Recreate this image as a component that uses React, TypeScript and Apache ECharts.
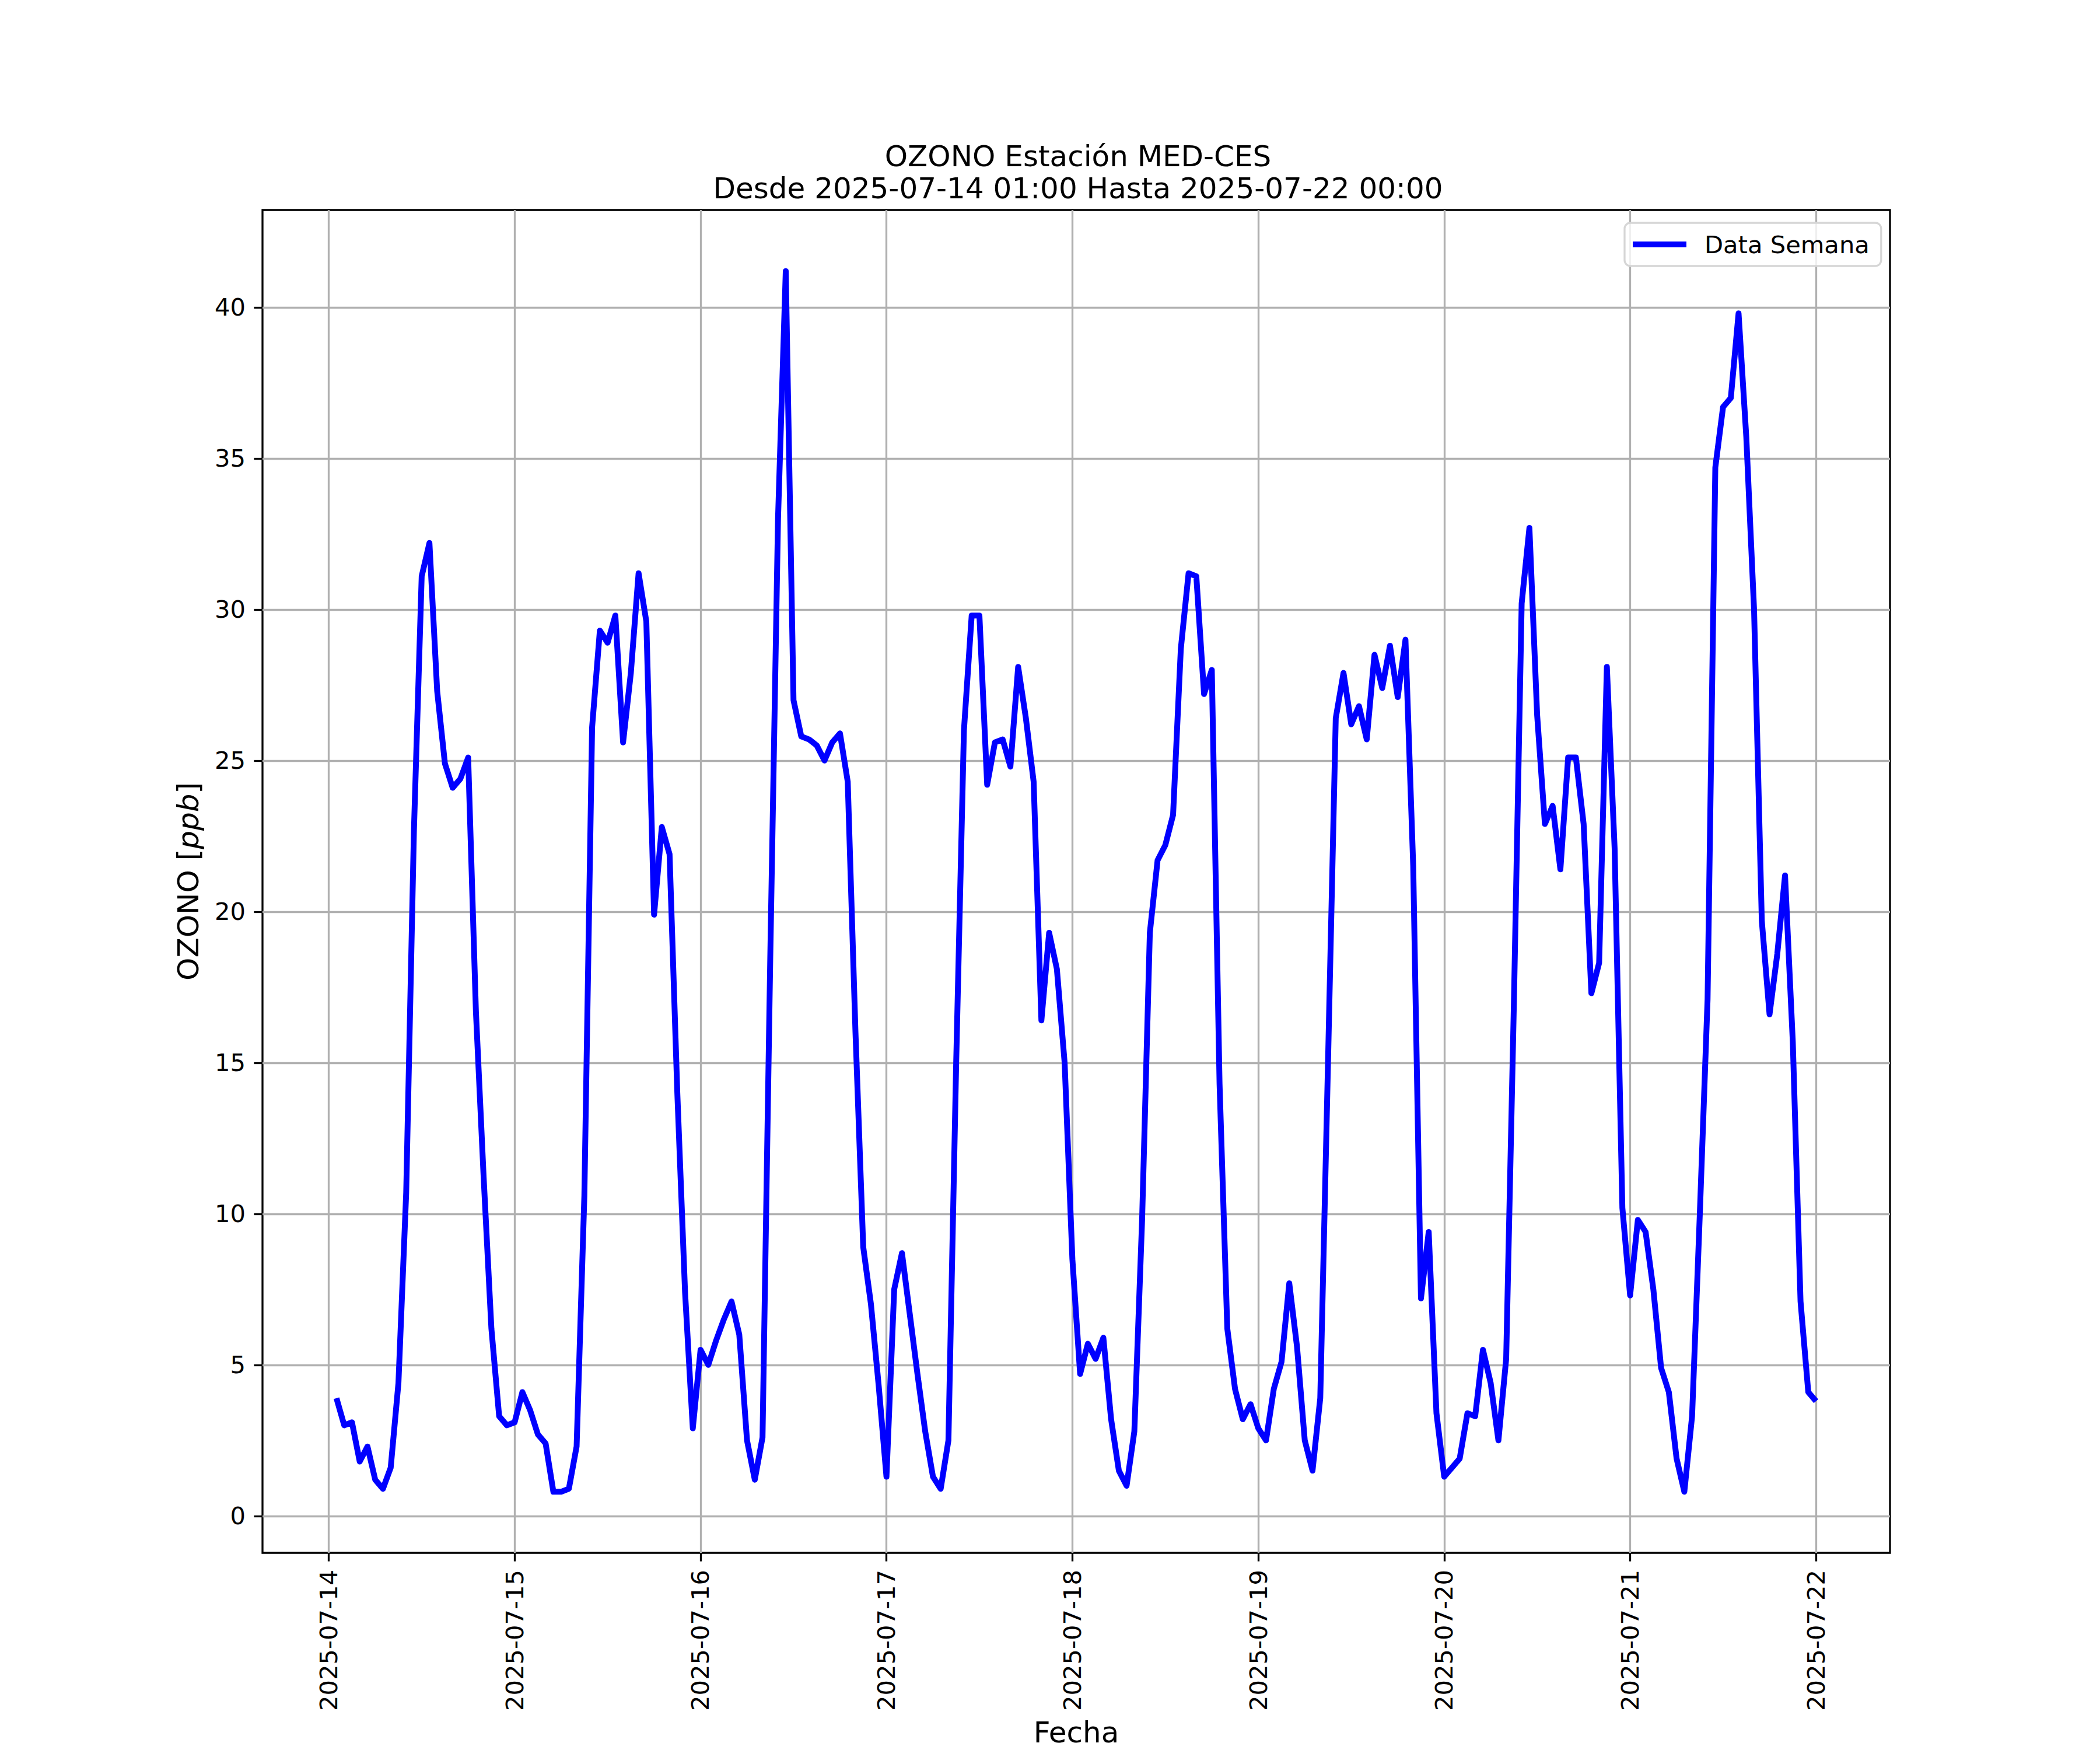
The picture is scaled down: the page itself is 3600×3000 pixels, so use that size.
import React, { useEffect, useRef } from "react";
import * as echarts from "echarts";

// Hourly ozone values (ppb); each array = hours 01:00 .. 24:00 (next day 00:00)
const DAY_0714 = [3.9, 3.0, 3.1, 1.8, 2.3, 1.2, 0.9, 1.6, 4.4, 10.7, 22.7, 31.1, 32.2, 27.3, 24.9, 24.1, 24.4, 25.1, 16.7, 11.2, 6.2, 3.3, 3.0, 3.1];
const DAY_0715 = [4.1, 3.5, 2.7, 2.4, 0.8, 0.8, 0.9, 2.3, 10.6, 26.1, 29.3, 28.9, 29.8, 25.6, 27.9, 31.2, 29.6, 19.9, 22.8, 21.9, 14.0, 7.4, 2.9, 5.5];
const DAY_0716 = [5.0, 5.8, 6.5, 7.1, 6.0, 2.5, 1.2, 2.6, 18.5, 33.0, 41.2, 27.0, 25.8, 25.7, 25.5, 25.0, 25.6, 25.9, 24.3, 16.0, 8.9, 7.0, 4.3, 1.3];
const DAY_0717 = [7.5, 8.7, 6.7, 4.7, 2.8, 1.3, 0.9, 2.5, 15.0, 26.0, 29.8, 29.8, 24.2, 25.6, 25.7, 24.8, 28.1, 26.4, 24.3, 16.4, 19.3, 18.1, 15.0, 8.5];
const DAY_0718 = [4.7, 5.7, 5.2, 5.9, 3.2, 1.5, 1.0, 2.8, 9.8, 19.3, 21.7, 22.2, 23.2, 28.7, 31.2, 31.1, 27.2, 28.0, 14.3, 6.2, 4.2, 3.2, 3.7, 2.9];
const DAY_0719 = [2.5, 4.2, 5.1, 7.7, 5.6, 2.5, 1.5, 3.9, 15.0, 26.4, 27.9, 26.2, 26.8, 25.7, 28.5, 27.4, 28.8, 27.1, 29.0, 21.5, 7.2, 9.4, 3.4, 1.3];
const DAY_0720 = [1.6, 1.9, 3.4, 3.3, 5.5, 4.4, 2.5, 5.2, 17.0, 30.2, 32.7, 26.5, 22.9, 23.5, 21.4, 25.1, 25.1, 22.9, 17.3, 18.3, 28.1, 22.1, 10.2, 7.3];
const DAY_0721 = [9.8, 9.4, 7.5, 4.9, 4.1, 1.9, 0.8, 3.3, 10.0, 17.1, 34.7, 36.7, 37.0, 39.8, 35.7, 30.0, 19.7, 16.6, 18.6, 21.2, 15.7, 7.1, 4.1, 3.8];

const VALUES = [...DAY_0714, ...DAY_0715, ...DAY_0716, ...DAY_0717, ...DAY_0718, ...DAY_0719, ...DAY_0720, ...DAY_0721];
const START = Date.UTC(2025, 6, 14, 1, 0, 0);
const HOUR = 3600 * 1000;
const TIMES = VALUES.map((_, i) => START + i * HOUR);

const X_TICKS = ["2025-07-14", "2025-07-15", "2025-07-16", "2025-07-17", "2025-07-18", "2025-07-19", "2025-07-20", "2025-07-21", "2025-07-22"];
const Y_TICKS = [0, 5, 10, 15, 20, 25, 30, 35, 40];

const TITLE = ["OZONO Estación MED-CES", "Desde 2025-07-14 01:00 Hasta 2025-07-22 00:00"];
const SERIES_NAME = "Data Semana";

const FONT = "DejaVu Sans";
const BLUE = "#0000ff";

export default function App() {
  const ref = useRef<HTMLDivElement>(null);
  useEffect(() => {
    const chart = echarts.init(ref.current!, null, { renderer: "svg" });
    const tMin = TIMES[0];
    const tMax = TIMES[TIMES.length - 1];
    const tPad = (tMax - tMin) * 0.05;
    const vMin = Math.min(...VALUES);
    const vMax = Math.max(...VALUES);
    const vPad = (vMax - vMin) * 0.05;
    const xTickVals = X_TICKS.map((d) => Date.parse(d + "T00:00:00Z"));

    const option = {
      animation: false,
      backgroundColor: "#ffffff",
      textStyle: { fontFamily: FONT },
      title: {
        text: TITLE.join("\n"),
        left: 1843,
        top: 235,
        textAlign: "center",
        textStyle: { fontFamily: FONT, fontSize: 50, fontWeight: "normal", color: "#000", lineHeight: 55 },
      },
      legend: {
        left: 2785,
        top: 382,
        itemWidth: 92,
        itemHeight: 10,
        padding: [16, 20, 16, 14],
        borderColor: "#d6d6d6",
        borderWidth: 3.3,
        borderRadius: 10,
        backgroundColor: "rgba(255,255,255,0.8)",
        textStyle: { fontFamily: FONT, fontSize: 41.67, color: "#000", padding: [0, 0, 0, 26] },
        data: [{ name: SERIES_NAME, icon: "rect", itemStyle: { color: BLUE } }],
      },
      grid: {
        left: 450,
        right: 360,
        top: 360,
        bottom: 330,
        show: true,
        borderColor: "#000",
        borderWidth: 3.3,
        backgroundColor: "transparent",
      },
      xAxis: {
        type: "value",
        min: tMin - tPad,
        max: tMax + tPad,
        axisLine: { show: false, onZero: false },
        axisTick: { show: true, length: 14.6, lineStyle: { color: "#000", width: 3.3 }, customValues: xTickVals },
        axisLabel: {
          customValues: xTickVals,
          rotate: 90,
          margin: 29,
          fontFamily: FONT,
          fontSize: 41.67,
          color: "#000",
          formatter: (v: number) => new Date(v).toISOString().slice(0, 10),
        },
        splitLine: { show: true, lineStyle: { color: "#b0b0b0", width: 3.3 } },
        name: "Fecha",
        nameLocation: "middle",
        nameGap: 283,
        nameTextStyle: { fontFamily: FONT, fontSize: 50, color: "#000" },
      },
      yAxis: {
        type: "value",
        min: vMin - vPad,
        max: vMax + vPad,
        axisLine: { show: false, onZero: false },
        axisTick: { show: true, length: 14.6, lineStyle: { color: "#000", width: 3.3 }, customValues: Y_TICKS },
        axisLabel: { customValues: Y_TICKS, margin: 29, fontFamily: FONT, fontSize: 41.67, color: "#000" },
        splitLine: { show: true, lineStyle: { color: "#b0b0b0", width: 3.3 } },
        name: "OZONO [{i|ppb}]",
        nameLocation: "middle",
        nameRotate: 90,
        nameGap: 102,
        nameTextStyle: {
          fontFamily: FONT,
          fontSize: 50,
          color: "#000",
          rich: { i: { fontFamily: FONT, fontSize: 50, fontStyle: "italic", color: "#000" } },
        },
      },
      series: [
        {
          name: SERIES_NAME,
          type: "line",
          data: TIMES.map((t, i) => [t, VALUES[i]]),
          symbol: "none",
          showSymbol: false,
          lineStyle: { color: BLUE, width: 10, join: "round" },
          itemStyle: { color: BLUE },
        },
      ],
    };
    chart.setOption(option as any);
    return () => chart.dispose();
  }, []);
  return <div ref={ref} style={{ position: "absolute", left: 0, top: 0, width: 3600, height: 3000, background: "#fff" }} />;
}
